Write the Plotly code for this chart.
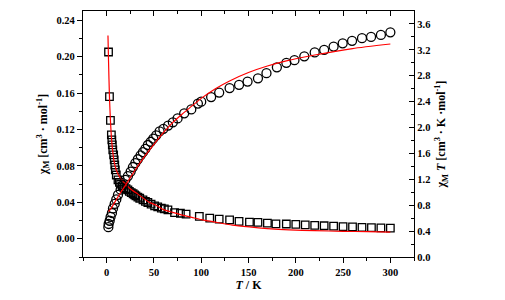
import plotly.graph_objects as go

# chi_M (left axis) - squares
sq_T = [2, 3, 4, 5, 5.5, 6, 6.5, 7.4, 8, 8.6, 9.2, 10.2, 12, 13.5, 14.8, 16.5, 18.3, 20.5, 22.5, 24, 26, 28, 29.6, 31, 33,
        35, 38.4, 41, 43.6, 47, 50.7, 54, 57.8, 61, 64.8, 71.8, 78, 84, 98, 109, 119, 130, 140, 151, 160, 170, 179,
        190, 200, 210, 220, 230, 240, 250, 260, 270, 280, 290, 300]
sq_chi = [0.205, 0.156, 0.130, 0.114, 0.1085, 0.103, 0.0975, 0.092, 0.0866, 0.081, 0.0756, 0.070, 0.0647, 0.062, 0.060,
          0.058, 0.0562, 0.055, 0.0537, 0.052, 0.0507, 0.0494, 0.0482, 0.047, 0.0457, 0.0445, 0.0427, 0.041, 0.0398,
          0.038, 0.0362, 0.035, 0.0336, 0.0328, 0.0318, 0.0288, 0.028, 0.027, 0.0245, 0.0227, 0.0216, 0.0208, 0.019,
          0.0183, 0.0179, 0.0172, 0.0164, 0.0162, 0.0158, 0.0152, 0.0148, 0.0143, 0.0138, 0.0134, 0.0130, 0.0126,
          0.0122, 0.0120, 0.0117]

# chi_M T (right axis) - circles
ci_T = [1.8, 2.1, 3.2, 4.2, 5.6, 6.7, 8.5, 10.2, 12, 14.8, 17.2, 19.7, 22.5, 25.4, 27.8, 30.3, 33, 35.9, 38.4, 40.9,
        43.6, 46.5, 49.3, 52.4, 56, 60, 65, 70, 75, 82, 89.5, 96.5, 100, 110.5, 119, 130, 140, 149, 160, 169, 180,
        190, 198.6, 209, 220, 230, 240, 249.6, 259.5, 270, 279.6, 290, 300]
ci_chiT = [0.46, 0.51, 0.56, 0.62, 0.68, 0.75, 0.82, 0.89, 0.96, 1.04, 1.11, 1.19, 1.25, 1.32, 1.39, 1.45, 1.51, 1.57,
           1.62, 1.67, 1.73, 1.78, 1.83, 1.88, 1.94, 1.98, 2.03, 2.08, 2.14, 2.22, 2.28, 2.37, 2.40, 2.47, 2.54, 2.61,
           2.66, 2.71, 2.76, 2.84, 2.93, 3.0, 3.04, 3.1, 3.16, 3.2, 3.25, 3.30, 3.34, 3.38, 3.40, 3.43, 3.47]

# fit curves
fit1_T = [1.4, 2, 3, 4, 5, 6, 7, 8, 10, 12, 15, 20, 25, 33, 45, 52, 60, 70, 80, 90, 100, 116, 133, 151, 170, 193,
          220, 250, 275, 300]
fit1_chi = [0.223, 0.195, 0.155, 0.13, 0.112, 0.100, 0.091, 0.084, 0.076, 0.071, 0.066, 0.060, 0.055, 0.049, 0.040,
            0.037, 0.032, 0.029, 0.026, 0.0235, 0.021, 0.018, 0.015, 0.0130, 0.0112, 0.0097, 0.0089, 0.0082, 0.0078,
            0.0074]
fit2_T = [2, 5, 10, 15, 20, 30, 40, 50, 60, 70, 80, 90, 100, 115, 130, 150, 170, 190, 220, 260, 300]
fit2_chiT = [0.70, 0.76, 0.88, 1.00, 1.11, 1.34, 1.55, 1.74, 1.92, 2.08, 2.21, 2.33, 2.45, 2.60, 2.72, 2.85, 2.95,
             3.03, 3.12, 3.22, 3.29]

FONT = "Liberation Serif"

fig = go.Figure()
fig.add_trace(go.Scatter(x=sq_T, y=sq_chi, mode="markers", xaxis="x", yaxis="y",
                         marker=dict(symbol="square-open", size=7.5, color="black", line=dict(width=1.3, color="black")),
                         showlegend=False))
fig.add_trace(go.Scatter(x=fit1_T, y=fit1_chi, mode="lines", xaxis="x", yaxis="y",
                         line=dict(color="red", width=1.2, shape="spline", smoothing=0.6), showlegend=False))
fig.add_trace(go.Scatter(x=ci_T, y=ci_chiT, mode="markers", xaxis="x2", yaxis="y2",
                         marker=dict(symbol="circle-open", size=9, color="black", line=dict(width=1.3, color="black")),
                         showlegend=False))
fig.add_trace(go.Scatter(x=fit2_T, y=fit2_chiT, mode="lines", xaxis="x2", yaxis="y2",
                         line=dict(color="red", width=1.2, shape="spline", smoothing=0.6), showlegend=False))

tickfont = dict(family=FONT, size=10.5, color="black")
titlefont = dict(family=FONT, size=12, color="black")

fig.update_layout(
    width=489, height=284,
    margin=dict(l=75, r=83, t=3, b=35, autoexpand=False),
    paper_bgcolor="white", plot_bgcolor="white",
    font=dict(family=FONT, color="black"),
    xaxis=dict(range=[-25, 325], tickmode="linear", tick0=0, dtick=50, automargin=False,
               ticks="outside", ticklen=5, tickwidth=1.2, tickcolor="black",
               minor=dict(ticks="outside", ticklen=3, dtick=25, tick0=0, tickcolor="black", tickwidth=1.2),
               showline=True, linecolor="black", linewidth=1.3, showgrid=False, zeroline=False,
               tickfont=tickfont, tickprefix="<b>", ticksuffix="</b>",
               title=dict(text="<b><i>T</i> / K</b>", font=titlefont, standoff=4)),
    xaxis2=dict(range=[-25, 325], overlaying="x", side="top", anchor="y", tickmode="linear", tick0=0, dtick=50,
                automargin=False,
                ticks="inside", ticklen=5, tickwidth=1.2, tickcolor="black",
                minor=dict(ticks="inside", ticklen=3, dtick=25, tick0=0, tickcolor="black", tickwidth=1.2),
                showline=True, linecolor="black", linewidth=1.3, showgrid=False, zeroline=False,
                showticklabels=False),
    yaxis=dict(range=[-0.02, 0.25], tickmode="linear", tick0=0, dtick=0.04, tickformat=".2f", automargin=False,
               ticks="outside", ticklen=5, tickwidth=1.2, tickcolor="black",
               minor=dict(ticks="outside", ticklen=3, dtick=0.02, tick0=0, tickcolor="black", tickwidth=1.2),
               showline=True, linecolor="black", linewidth=1.3, showgrid=False, zeroline=False,
               tickfont=tickfont, tickprefix="<b>", ticksuffix="</b>",
               title=dict(text="<b>χ<sub>M</sub> [cm<sup>3</sup> · mol<sup>-1</sup>]</b>", font=titlefont, standoff=6)),
    yaxis2=dict(range=[0, 3.8], overlaying="y", side="right", anchor="x2", tickmode="linear", tick0=0, dtick=0.4,
                tickformat=".1f", automargin=False,
                ticks="inside", ticklen=5, tickwidth=1.2, tickcolor="black",
                minor=dict(ticks="inside", ticklen=3, dtick=0.2, tick0=0, tickcolor="black", tickwidth=1.2),
                showline=True, linecolor="black", linewidth=1.3, showgrid=False, zeroline=False,
                tickfont=tickfont, tickprefix="<b>", ticksuffix="</b>",
                title=dict(text="<b>χ<sub>M</sub> <i>T</i> [cm<sup>3</sup> · K ·mol<sup>-1</sup>]</b>", font=titlefont,
                           standoff=6)),
)

fig.write_html("out.html")
